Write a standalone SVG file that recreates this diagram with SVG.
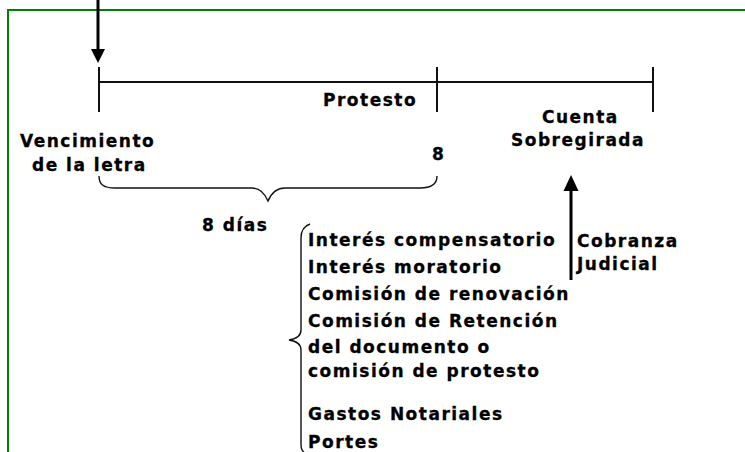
<svg xmlns="http://www.w3.org/2000/svg" width="745" height="452" viewBox="0 0 745 452">
<style>
text{font-family:"DejaVu Sans",Verdana,sans-serif;font-weight:700;font-size:17px;letter-spacing:1.5px;fill:#000;stroke:#000;stroke-width:0.3}
.ln{stroke:#111;stroke-width:2;fill:none}
.br{stroke:#111;stroke-width:1.4;fill:none}
.ar{stroke:#000;stroke-width:3;fill:none}
</style>
<rect width="745" height="452" fill="#fff"/>
<g id="frame">
<path d="M8,452 V10 H745" fill="none" stroke="#008000" stroke-width="2"/>
</g>
<g id="connectors">
<line class="ar" x1="98" y1="0" x2="98" y2="50"/>
<polygon points="91,49 105,49 98,63" fill="#000"/>
<line class="ar" x1="571" y1="190" x2="571" y2="280"/>
<polygon points="563.5,191 578.5,191 571,175" fill="#000"/>
<path class="br" d="M99,176 C99,184 103,188 115,188 L252,188 C260,188 265,194 268,201 C271,194 276,188 285,188 L420,188 C432,188 437,184 437,176"/>
<path class="br" d="M310,224 C304,226 301,230 301,238 L301,330 C301,336 296,339 289,340 C296,341 301,344 301,350 L301,444 C301,448 302,451 304,452"/>
</g>
<g id="timeline">
<line class="ln" x1="99" y1="82" x2="653" y2="82"/>
<line class="ln" x1="99" y1="67" x2="99" y2="112"/>
<line class="ln" x1="437" y1="67" x2="437" y2="112"/>
<line class="ln" x1="653" y1="67" x2="653" y2="112"/>
</g>
<g id="vencimiento">
<text x="20" y="147">Vencimiento</text>
<text x="32" y="171">de la letra</text>
</g>
<g id="protesto"><text x="323" y="106">Protesto</text></g>
<g id="ocho"><text x="432" y="160">8</text></g>
<g id="cuenta">
<text x="542" y="123">Cuenta</text>
<text x="511" y="146">Sobregirada</text>
</g>
<g id="dias"><text x="202" y="231">8 días</text></g>
<g id="cobranza">
<text x="577" y="247">Cobranza</text>
<text x="577" y="270">Judicial</text>
</g>
<g id="gastos">
<text x="308" y="246">Interés compensatorio</text>
<text x="308" y="273">Interés moratorio</text>
<text x="308" y="300">Comisión de renovación</text>
<text x="308" y="327">Comisión de Retención</text>
<text x="308" y="353">del documento o</text>
<text x="308" y="377">comisión de protesto</text>
<text x="308" y="420">Gastos Notariales</text>
<text x="308" y="448">Portes</text>
</g>
</svg>
